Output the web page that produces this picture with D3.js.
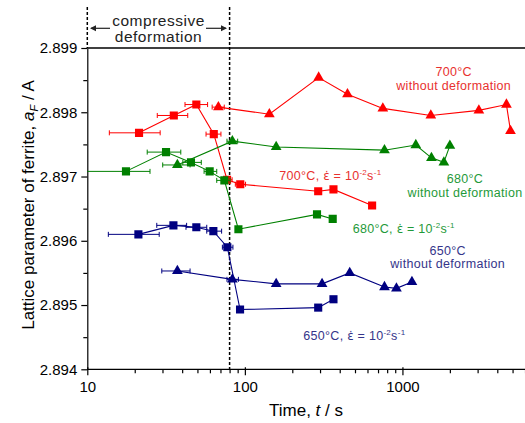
<!DOCTYPE html>
<html>
<head>
<meta charset="utf-8">
<script src="https://cdn.jsdelivr.net/npm/d3@7"></script>
<style>
	body { margin: 0; background: #fff; }
	svg { font-family: "Liberation Sans", Arial, sans-serif; }
	.axis path, .axis line { stroke: #000; stroke-width: 1.2; }
	.axis text { font-size: 15px; fill: #000; }
</style>
</head>
<body>
<div class="chart"></div>
<script>

// 700 C, deformed (squares)
var red_def_t   = [21.3, 35.4, 49.2, 63.5, 77.1, 93.5, 292, 365, 642];
var red_def_a   = [2.89768, 2.89795, 2.89812, 2.89766, 2.89695, 2.89688, 2.89677, 2.89680, 2.89655];
var red_def_err = [[13.8, 29], [27.8, 43.4], [41.7, 58], [56.7, 70.5], [72, 83], [87, 101], null, null, null];

// 700 C, without deformation (triangles)
var red_nd_t   = [67.9, 143, 294, 448, 751, 1514, 3055, 4571, 4851];
var red_nd_a   = [2.89808, 2.89797, 2.89854, 2.89828, 2.89806, 2.89795, 2.89803, 2.89812, 2.89771];
var red_nd_err = [[62, 74], null, null, null, null, null, null, null, null];

// 680 C, deformed
var green_def_t   = [17.6, 31.6, 45.5, 59.8, 74.1, 91, 287, 361];
var green_def_a   = [2.89708, 2.89738, 2.89722, 2.89708, 2.89694, 2.89618, 2.89641, 2.89634];
var green_def_err = [[9, 25], [24, 39.2], [40.4, 52.9], [55.1, 66.3], [66.3, 80.5], null, null, null];

// 680 C, without deformation
var green_nd_t   = [37.3, 83.3, 158, 769, 1216, 1528, 1832, 2000];
var green_nd_a   = [2.89718, 2.89755, 2.89746, 2.89741, 2.89749, 2.89729, 2.89722, 2.89748];
var green_nd_err = [[30.1, 44.9], [77, 90], null, null, null, null, null, null];

// 650 C, deformed
var blue_def_t   = [21.1, 35.2, 49.2, 63.1, 77.4, 93.2, 292, 365];
var blue_def_a   = [2.89610, 2.89624, 2.89621, 2.89615, 2.89590, 2.89493, 2.89496, 2.89509];
var blue_def_err = [[13.6, 28.6], [27.6, 42.7], [42.3, 57.3], [57.3, 71.2], [72, 84], null, null, null];

// 650 C, without deformation
var blue_nd_t   = [37.3, 83.3, 158, 309, 463, 769, 916, 1149];
var blue_nd_a   = [2.89553, 2.89540, 2.89533, 2.89533, 2.89550, 2.89528, 2.89526, 2.89536];
var blue_nd_err = [[29.7, 44.9], [77, 91], null, null, null, null, null, null];

var xTicks = [10, 100, 1000];
var yTicks = [2.894, 2.895, 2.896, 2.897, 2.898, 2.899];
var deformEnd = 80;

var w = 525;
var h = 423;

var svg = d3.select('.chart')
	.append('svg')
	.attr('width', w)
	.attr('height', h);

var x = d3.scaleLog().domain([10, 10000]).range([87.3, 560]);
var y = d3.scaleLinear().domain([2.894, 2.899]).range([369.3, 48]);

svg.append('clipPath').attr('id', 'plot')
	.append('rect').attr('x', 87.3).attr('y', 40).attr('width', w - 87.3).attr('height', 335);

// minor ticks
var xMinor = [];
[10, 100, 1000].forEach(function(d){ for (var k = 2; k <= 9; k++) xMinor.push(d * k); });
var yMinor = [2.8945, 2.8955, 2.8965, 2.8975, 2.8985];

svg.append('g').attr('class', 'axis')
	.attr('transform', 'translate(0,369.3)')
	.call(d3.axisBottom(x).tickValues(xMinor).tickSize(4).tickFormat(''))
	.select('.domain').remove();

var xAxis = svg.append('g').attr('class', 'axis')
	.attr('transform', 'translate(0,369.3)')
	.call(d3.axisBottom(x).tickValues(xTicks).tickSize(6).tickSizeOuter(0).tickFormat(d3.format('d')));
xAxis.select('.domain').attr('d', 'M87.3,0H' + w);
xAxis.selectAll('.tick line').attr('y1', -2);
xAxis.selectAll('.tick text').attr('y', 12);

svg.append('g').attr('class', 'axis')
	.attr('transform', 'translate(87.3,0)')
	.call(d3.axisLeft(y).tickValues(yMinor).tickSize(4).tickFormat(''))
	.select('.domain').remove();

var yAxis = svg.append('g').attr('class', 'axis')
	.attr('transform', 'translate(87.3,0)')
	.call(d3.axisLeft(y).tickValues(yTicks).tickSize(6).tickSizeOuter(0).tickFormat(d3.format('.3f')));
yAxis.selectAll('.tick text').attr('x', -10);

// top frame
svg.append('line')
	.attr('x1', 87.3).attr('x2', w)
	.attr('y1', y(2.899)).attr('y2', y(2.899))
	.attr('stroke', '#000').attr('stroke-width', 1.3);

// compressive deformation window
svg.append('line')
	.attr('x1', x(10)).attr('x2', x(10)).attr('y1', 7).attr('y2', y(2.899))
	.attr('stroke', '#000').attr('stroke-width', 1.5).attr('stroke-dasharray', '3,2');
svg.append('line')
	.attr('x1', x(deformEnd)).attr('x2', x(deformEnd)).attr('y1', 7).attr('y2', y(2.894))
	.attr('stroke', '#000').attr('stroke-width', 1.5).attr('stroke-dasharray', '3,2');

svg.append('text').attr('x', 158.5).attr('y', 26)
	.attr('text-anchor', 'middle').attr('font-size', '15.5px').attr('letter-spacing', '0.5px').attr('fill', '#222')
	.text('compressive');
svg.append('text').attr('x', 158.5).attr('y', 41.5)
	.attr('text-anchor', 'middle').attr('font-size', '15.5px').attr('letter-spacing', '0.5px').attr('fill', '#222')
	.text('deformation');

svg.append('path').attr('d', 'M91,28.3H110').attr('stroke', '#222').attr('stroke-width', 1.2);
svg.append('path').attr('d', 'M90,28.3l6,-3v6z').attr('fill', '#222');
svg.append('path').attr('d', 'M206,28.3H226').attr('stroke', '#222').attr('stroke-width', 1.2);
svg.append('path').attr('d', 'M227,28.3l-6,-3v6z').attr('fill', '#222');

// axis titles
svg.append('text').attr('x', 306).attr('y', 416)
	.attr('text-anchor', 'middle').attr('font-size', '17px')
	.html('Time, <tspan font-style="italic">t</tspan> / s');

svg.append('text')
	.attr('transform', 'translate(34,205) rotate(-90)')
	.attr('text-anchor', 'middle').attr('font-size', '17px')
	.html('Lattice parameter of ferrite, <tspan font-style="italic">a</tspan><tspan font-style="italic" font-size="11px" dy="4">F</tspan><tspan dy="-4"> / A</tspan>');

function series(ts, as, errs, color, shape){
	var data = ts.map(function(t, i){ return {t: t, a: as[i], err: errs[i]}; });
	var g = svg.append('g').attr('clip-path', 'url(#plot)');

	g.append('path')
		.datum(data)
		.attr('fill', 'none')
		.attr('stroke', color)
		.attr('stroke-width', 1.1)
		.attr('d', d3.line().x(function(d){ return x(d.t); }).y(function(d){ return y(d.a); }));

	var eb = g.selectAll('g.err')
		.data(data.filter(function(d){ return d.err; }))
		.enter()
		.append('g');
	eb.append('line')
		.attr('x1', function(d){ return x(d.err[0]); })
		.attr('x2', function(d){ return x(d.err[1]); })
		.attr('y1', function(d){ return y(d.a); })
		.attr('y2', function(d){ return y(d.a); })
		.attr('stroke', color).attr('stroke-width', 1);
	[0, 1].forEach(function(k){
		eb.append('line')
			.attr('x1', function(d){ return x(d.err[k]); })
			.attr('x2', function(d){ return x(d.err[k]); })
			.attr('y1', function(d){ return y(d.a) - 2.5; })
			.attr('y2', function(d){ return y(d.a) + 2.5; })
			.attr('stroke', color).attr('stroke-width', 1);
	});

	var sym = d3.symbol().type(shape == 'square' ? d3.symbolSquare : d3.symbolTriangle)
		.size(shape == 'square' ? 66 : 50);
	g.selectAll('path.mark')
		.data(data)
		.enter()
		.append('path')
		.attr('class', 'mark')
		.attr('fill', color)
		.attr('transform', function(d){ return 'translate(' + x(d.t) + ',' + y(d.a) + ')'; })
		.attr('d', sym);
}

series(red_nd_t, red_nd_a, red_nd_err, '#ff0000', 'triangle');
series(red_def_t, red_def_a, red_def_err, '#ff0000', 'square');
series(green_nd_t, green_nd_a, green_nd_err, '#008000', 'triangle');
series(green_def_t, green_def_a, green_def_err, '#008000', 'square');
series(blue_nd_t, blue_nd_a, blue_nd_err, '#000080', 'triangle');
series(blue_def_t, blue_def_a, blue_def_err, '#000080', 'square');

// annotations
function label(xp, yp, anchor, color, html){
	svg.append('text')
		.attr('x', xp).attr('y', yp)
		.attr('text-anchor', anchor)
		.attr('font-size', '12.5px')
		.attr('letter-spacing', '0.3px')
		.attr('fill', color)
		.html(html);
}
var rate = ', <tspan font-family="DejaVu Sans" font-size="12px" letter-spacing="0">\u03B5\u0307</tspan> = 10' +
	'<tspan font-size="8px" dy="-5">-2</tspan><tspan dy="5">s</tspan><tspan font-size="8px" dy="-5">-1</tspan>';

label(453.7, 76, 'middle', '#e8312f', '700\u00B0C');
label(453.7, 89.5, 'middle', '#e8312f', 'without deformation');
label(465, 183, 'middle', '#1f9a3a', '680\u00B0C');
label(465, 197, 'middle', '#1f9a3a', 'without deformation');
label(447.7, 254.5, 'middle', '#35358a', '650\u00B0C');
label(447.7, 268, 'middle', '#35358a', 'without deformation');

label(279.3, 180, 'start', '#e8312f', '700\u00B0C' + rate);
label(352.7, 233, 'start', '#1f9a3a', '680\u00B0C' + rate);
label(303.3, 340, 'start', '#35358a', '650\u00B0C' + rate);

</script>
</body>
</html>
